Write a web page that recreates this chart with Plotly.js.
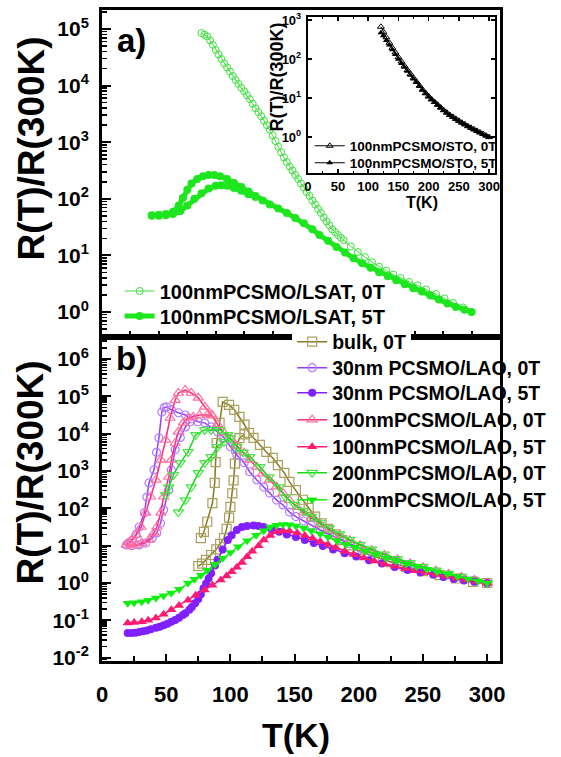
<!DOCTYPE html>
<html><head><meta charset="utf-8">
<script src="https://cdn.plot.ly/plotly-3.0.1.min.js"></script>
<style>html,body{margin:0;padding:0;background:#fff}#chart{width:561px;height:757px}</style>
</head><body><div id="chart"></div>
<script>
// ---------- Panel a: 100nm PCSMO/LSAT (values read as log10 R(T)/R(300K)) ----------
const lsat0T_T = [110,112,114,116,118,120,122,124,126,128,130,132,134,136,138,140,142,144,146,148,150,152,154,156,158,160,162,164,166,168,170,172,174,176,178,180,182,184,186,188,190,192,194,196,198,200,202,204,206,208,210,215,220,225,230,235,240,245,250,256,262,268,275,281,287,294,300];
const lsat0T_log = [4.93,4.90,4.87,4.80,4.72,4.63,4.55,4.47,4.39,4.32,4.25,4.17,4.10,4.03,3.96,3.90,3.83,3.76,3.68,3.60,3.53,3.46,3.38,3.30,3.22,3.12,3.02,2.92,2.82,2.73,2.65,2.57,2.50,2.42,2.35,2.27,2.20,2.12,2.05,1.97,1.90,1.82,1.75,1.67,1.60,1.53,1.46,1.41,1.36,1.31,1.27,1.16,1.06,0.97,0.88,0.80,0.73,0.66,0.60,0.53,0.47,0.40,0.32,0.24,0.16,0.08,0.00];
const lsat5T_T = [300,295,289,283,277,271,265,259,253,247,241,235,229,223,217,211,205,199,193,188,182,176,170,164,158,153,148,143,138,133,128,123,119,115,111,107,103,100,97,94,90,85,80,75,75,80,85,90,95,100,105,110,115,120,124,128,133,138,143,148];
const lsat5T_log = [0.00,0.04,0.09,0.15,0.22,0.29,0.36,0.42,0.49,0.56,0.63,0.70,0.78,0.86,0.95,1.05,1.15,1.26,1.36,1.46,1.57,1.66,1.75,1.83,1.90,1.97,2.05,2.13,2.21,2.28,2.35,2.40,2.42,2.42,2.40,2.35,2.27,2.16,2.02,1.88,1.77,1.73,1.72,1.71,1.70,1.70,1.71,1.73,1.78,1.88,2.00,2.10,2.18,2.23,2.24,2.23,2.19,2.14,2.08,2.03];

// ---------- Inset: 100nm PCSMO/STO ----------
const sto0T_T = [121,125,130,135,140,145,150,155,160,165,170,175,180,185,190,195,200,205,210,215,220,225,230,235,240,245,250,255,260,265,270,275,280,285,290,295,300];
const sto0T_log = [2.83,2.70,2.56,2.42,2.29,2.17,2.05,1.94,1.83,1.72,1.62,1.52,1.42,1.32,1.22,1.13,1.05,0.97,0.90,0.83,0.76,0.69,0.63,0.57,0.52,0.47,0.42,0.37,0.33,0.28,0.24,0.20,0.16,0.12,0.08,0.04,0.00];
const sto5T_T = [121,125,130,135,140,145,150,155,160,165,170,175,180,185,190,195,200,205,210,215,220,225,230,235,240,245,250,255,260,265,270,275,280,285,290,295,300];
const sto5T_log = [2.68,2.60,2.48,2.36,2.24,2.12,2.00,1.89,1.79,1.69,1.59,1.49,1.40,1.30,1.20,1.11,1.03,0.96,0.89,0.82,0.75,0.68,0.62,0.56,0.51,0.46,0.41,0.36,0.32,0.27,0.23,0.19,0.15,0.11,0.07,0.03,0.00];

// ---------- Panel b ----------
const bulk_T = [300,289,276,263,250,237,225,212,205,199,193,187,182,176,171,166,161,156.5,151,146,142,137,133,128,123,118,114.5,111,107,103,99,94,91.6,89.3,88.5,87.8,86,82,79.4,77,null,75,78,81,85,89,92,95,97,99,100,101.5,102.5,103.5,104.5,107,111];
const bulk_log = [0.00,0.03,0.12,0.21,0.32,0.43,0.56,0.70,0.79,0.88,1.01,1.15,1.30,1.45,1.60,1.78,2.01,2.23,2.49,2.71,2.95,3.16,3.35,3.51,3.70,3.89,4.02,4.24,4.45,4.64,4.77,4.85,4.29,3.75,3.24,2.68,2.14,1.64,1.37,1.20,null,0.45,0.52,0.62,0.75,0.90,1.05,1.20,1.45,1.75,2.04,2.40,2.75,3.20,3.60,3.88,3.98];

const lao30_0T_T = [68.7,65,61,57,54,52,48,45.6,42.7,39,34,29,23,19,21,23.7,26.5,29,33,35,36.6,40.5,42.5,44.3,46.6,48.5,50.4,54,59.5,65,70,74.8,80,85,90,95,100,105,110.7,115,120.6,126,130.5,136,141,146,151,157,163,170,177,185,193,201,210,220,230,240,250,260,270,280,290,300];
const lao30_0T_log = [4.32,4.18,3.90,3.57,3.03,2.49,1.96,1.60,1.34,1.20,1.07,1.02,1.00,1.02,1.08,1.15,1.30,1.50,1.88,2.30,2.68,3.03,3.50,3.89,4.58,4.70,4.72,4.64,4.56,4.50,4.40,4.32,4.29,4.18,4.05,3.89,3.65,3.43,3.22,2.98,2.76,2.57,2.41,2.22,2.09,1.90,1.78,1.66,1.55,1.42,1.30,1.17,1.05,0.93,0.81,0.69,0.58,0.48,0.39,0.30,0.22,0.14,0.07,0.00];

const lao100_0T_T = [86,82,76,71,67,63.4,59.5,57,54,52,48,45.8,42.7,40.5,36.6,31,26.7,23,19,21,23,26.7,30.5,34,38,42,45.8,49.6,53,57,59.5,64.8,69.5,75,80,85,90,95,100,105,110.7,115,120.6,125,130.5,136,141,146,152,157,163,170,177,185,193,201,210,220,230,240,250,260,270,280,290,300];
const lao100_0T_log = [4.48,4.50,4.50,4.45,4.42,4.29,4.05,3.75,3.30,2.84,2.31,1.88,1.50,1.34,1.15,1.07,1.02,1.00,1.02,1.08,1.15,1.29,1.50,1.88,2.31,2.76,3.30,3.83,4.42,4.90,5.09,5.17,5.09,4.96,4.72,4.52,4.25,4.02,3.87,3.68,3.49,3.30,3.11,2.93,2.76,2.58,2.41,2.22,2.03,1.88,1.74,1.58,1.43,1.28,1.14,1.01,0.88,0.75,0.63,0.52,0.42,0.33,0.24,0.16,0.08,0.00];

const lao200_0T_T = [49.6,52,55.7,61,67,73,80,85,92,98,105,110,115,123,130,138,143,150,157,163,170,177,185,193,201,210,220,230,240,250,260,270,280,290,300,null,59.5,65,69.5,75,80,85,90,95,100];
const lao200_0T_log = [2.36,2.57,2.90,3.22,3.51,3.97,4.10,4.10,4.10,3.97,3.65,3.50,3.38,3.11,2.84,2.57,2.30,2.10,1.93,1.78,1.62,1.47,1.31,1.16,1.03,0.90,0.77,0.65,0.54,0.44,0.34,0.25,0.17,0.08,0.00,null,1.90,2.22,2.57,2.95,3.22,3.38,3.65,3.78,3.88];

const lao30_5T_T = [20,23,26,29,32,35,38,42,45,48,51,54,57,60,63,65,68,70,72.5,75,77,79,81,83,85,88,90,94,98,101,105,109,113,118,122,126,132,138,144,151,158,165,172,180,189,198,208,218,228,238,248,258,266,274,282,290,300];
const lao30_5T_log = [-1.34,-1.34,-1.33,-1.31,-1.29,-1.27,-1.24,-1.20,-1.17,-1.13,-1.09,-1.04,-0.99,-0.93,-0.86,-0.81,-0.72,-0.64,-0.54,-0.43,-0.30,-0.15,-0.02,0.12,0.26,0.47,0.62,0.90,1.15,1.28,1.42,1.50,1.53,1.54,1.53,1.50,1.44,1.37,1.30,1.23,1.15,1.07,0.99,0.90,0.80,0.71,0.61,0.52,0.43,0.35,0.28,0.22,0.16,0.11,0.07,0.03,0.00];

const lao100_5T_T = [20,25,31,36,42,48,54,60,67,73,80,86,92.5,97,101,105,109,113,117,122,126,131,136,141,146,152,158,164,170,176,182,189,196,204,212,220,228,236,244,252,260,268,276,284,292,300];
const lao100_5T_log = [-1.07,-1.06,-1.04,-1.00,-0.94,-0.84,-0.72,-0.60,-0.46,-0.33,-0.19,-0.06,0.08,0.19,0.30,0.42,0.55,0.70,0.85,1.00,1.15,1.27,1.37,1.40,1.39,1.34,1.27,1.20,1.11,1.03,0.95,0.85,0.76,0.67,0.59,0.51,0.45,0.39,0.33,0.28,0.23,0.18,0.13,0.08,0.04,0.00];

const lao200_5T_T = [20,25,31,36,42,48,54,60,67,72,77,82,88,94,100,106,113,120,126,131,136,141,146,151,157,163,170,176,183,190,197,205,213,221,229,237,245,253,261,269,277,285,293,300];
const lao200_5T_log = [-0.54,-0.53,-0.50,-0.46,-0.40,-0.34,-0.27,-0.17,0.00,0.10,0.21,0.34,0.50,0.66,0.82,0.97,1.13,1.28,1.40,1.50,1.55,1.57,1.56,1.53,1.47,1.40,1.32,1.23,1.13,1.03,0.96,0.86,0.76,0.67,0.59,0.51,0.44,0.37,0.30,0.24,0.17,0.11,0.05,0.00];

// legend labels and tick labels
const namesA = ['100nmPCSMO/LSAT, 0T','100nmPCSMO/LSAT, 5T'];
const namesInset = ['100nmPCSMO/STO, 0T','100nmPCSMO/STO, 5T'];
const namesB = ['bulk, 0T','30nm PCSMO/LAO, 0T','30nm PCSMO/LAO, 5T','100nmPCSMO/LAO, 0T','100nmPCSMO/LAO, 5T','200nmPCSMO/LAO, 0T','200nmPCSMO/LAO, 5T'];
const yTickValsA = [1,10,100,1000,10000,100000];
const yTickTextA = ['10<sup>0</sup>','10<sup>1</sup>','10<sup>2</sup>','10<sup>3</sup>','10<sup>4</sup>','10<sup>5</sup>'];
const yTickValsB = [0.01,0.1,1,10,100,1000,10000,100000,1000000];
const yTickTextB = ['10<sup>-2</sup>','10<sup>-1</sup>','10<sup>0</sup>','10<sup>1</sup>','10<sup>2</sup>','10<sup>3</sup>','10<sup>4</sup>','10<sup>5</sup>','10<sup>6</sup>'];
const yTickValsI = [1,10,100,1000];
const yTickTextI = ['10<sup>0</sup>','10<sup>1</sup>','10<sup>2</sup>','10<sup>3</sup>'];

const fromLog = a => a.map(v => v === null ? null : Math.pow(10, v));
const FONT = 'Liberation Sans, Arial, sans-serif';
const bf = s => ({family: FONT, size: s, color: '#000', weight: 'bold'});

const traces = [
  // panel a
  {x: lsat0T_T, y: fromLog(lsat0T_log), name: namesA[0], xaxis: 'x2', yaxis: 'y2', legend: 'legend8',
   mode: 'lines+markers', line: {color: '#3ee03e', width: 1},
   marker: {symbol: 'circle-open', size: 7, color: '#3ee03e', line: {width: 1}}},
  {x: lsat5T_T, y: fromLog(lsat5T_log), name: namesA[1], xaxis: 'x2', yaxis: 'y2', legend: 'legend9',
   mode: 'lines+markers', line: {color: '#1ee61e', width: 5},
   marker: {symbol: 'circle', size: 8, color: '#1ee61e'}},
  // inset
  {x: sto5T_T, y: fromLog(sto5T_log), name: namesInset[1], xaxis: 'x3', yaxis: 'y3', legend: 'legend11',
   mode: 'lines+markers', line: {color: '#000', width: 1},
   marker: {symbol: 'triangle-up', size: 6, color: '#000'}},
  {x: sto0T_T, y: fromLog(sto0T_log), name: namesInset[0], xaxis: 'x3', yaxis: 'y3', legend: 'legend10',
   mode: 'lines+markers', line: {color: '#000', width: 1},
   marker: {symbol: 'triangle-up-open', size: 6, color: '#000', line: {width: 1}}},
  // panel b
  {x: bulk_T, y: fromLog(bulk_log), name: namesB[0], legend: 'legend', mode: 'lines+markers',
   line: {color: '#857a1e', width: 1.5}, marker: {symbol: 'square-open', size: 9, color: '#aaa060', line: {width: 1.2}}},
  {x: lao30_0T_T, y: fromLog(lao30_0T_log), name: namesB[1], legend: 'legend2', mode: 'lines+markers',
   line: {color: '#9040ff', width: 1.5}, marker: {symbol: 'circle-open', size: 8, color: '#b47cff', line: {width: 1.2}}},
  {x: lao100_0T_T, y: fromLog(lao100_0T_log), name: namesB[3], legend: 'legend4', mode: 'lines+markers',
   line: {color: '#ff2a78', width: 1.5}, marker: {symbol: 'triangle-up-open', size: 9, color: '#ff6f9c', line: {width: 1.2}}},
  {x: lao200_0T_T, y: fromLog(lao200_0T_log), name: namesB[5], legend: 'legend6', mode: 'lines+markers',
   line: {color: '#18d818', width: 1.5}, marker: {symbol: 'triangle-down-open', size: 9, color: '#44e644', line: {width: 1.2}}},
  {x: lao30_5T_T, y: fromLog(lao30_5T_log), name: namesB[2], legend: 'legend3', mode: 'lines+markers',
   line: {color: '#8020ff', width: 1.5}, marker: {symbol: 'circle', size: 8, color: '#8020ff'}},
  {x: lao100_5T_T, y: fromLog(lao100_5T_log), name: namesB[4], legend: 'legend5', mode: 'lines+markers',
   line: {color: '#ff1a72', width: 1.5}, marker: {symbol: 'triangle-up', size: 9, color: '#ff1a72'}},
  {x: lao200_5T_T, y: fromLog(lao200_5T_log), name: namesB[6], legend: 'legend7', mode: 'lines+markers',
   line: {color: '#10f010', width: 1.5}, marker: {symbol: 'triangle-down', size: 9, color: '#10f010'}}
];

const axLine = {showline: true, linecolor: '#000', linewidth: 3, mirror: true, showgrid: false, zeroline: false};
const layout = {
  width: 561, height: 757,
  margin: {l: 102, r: 53, t: 10, b: 96},
  paper_bgcolor: '#fff', plot_bgcolor: 'rgba(0,0,0,0)',
  font: bf(16),
  showlegend: true,
  xaxis: Object.assign({}, axLine, {domain: [0, 1], anchor: 'y', range: [0, 310], tick0: 0, dtick: 50,
    ticks: 'inside', ticklen: 7, tickwidth: 2, tickcolor: '#000',
    minor: {dtick: 25, ticks: 'inside', ticklen: 5, tickwidth: 2, tickcolor: '#000'},
    tickfont: bf(22), ticklabelstandoff: 12}),
  yaxis: Object.assign({}, axLine, {domain: [0, 0.4977], anchor: 'x', type: 'log', range: [-2.09, 6.59],
    tickmode: 'array', tickvals: yTickValsB, ticktext: yTickTextB,
    ticks: 'inside', ticklen: 9, tickwidth: 2, tickcolor: '#000',
    minor: {dtick: 'D1', ticks: 'inside', ticklen: 5, tickwidth: 1.5, tickcolor: '#000'},
    tickfont: bf(21), ticklabelstandoff: 6}),
  xaxis2: Object.assign({}, axLine, {domain: [0, 1], anchor: 'y2', range: [40, 320], tick0: 0, dtick: 20,
    ticks: 'inside', ticklen: 6, tickwidth: 2, tickcolor: '#000', showticklabels: false}),
  yaxis2: Object.assign({}, axLine, {domain: [0.4977, 1], anchor: 'x2', type: 'log', range: [-0.442, 5.336],
    tickmode: 'array', tickvals: yTickValsA, ticktext: yTickTextA,
    ticks: 'inside', ticklen: 9, tickwidth: 2, tickcolor: '#000',
    minor: {dtick: 'D1', ticks: 'inside', ticklen: 5, tickwidth: 1.5, tickcolor: '#000'},
    tickfont: bf(21), ticklabelstandoff: 6}),
  xaxis3: {domain: [0.517, 0.9877], anchor: 'y3', range: [0, 310], tick0: 0, dtick: 50,
    showline: true, linecolor: '#000', linewidth: 2, mirror: 'allticks', showgrid: false, zeroline: false,
    ticks: 'inside', ticklen: 4, tickwidth: 1.5, tickcolor: '#000',
    minor: {dtick: 25, ticks: 'inside', ticklen: 2, tickwidth: 1, tickcolor: '#000'},
    tickfont: bf(13)},
  yaxis3: {domain: [0.7496, 0.9892], anchor: 'x3', type: 'log', range: [-0.92, 3.08],
    tickmode: 'array', tickvals: yTickValsI, ticktext: yTickTextI,
    showline: true, linecolor: '#000', linewidth: 2, mirror: 'allticks', showgrid: false, zeroline: false,
    ticks: 'inside', ticklen: 4, tickwidth: 1.5, tickcolor: '#000', tickfont: bf(13), ticklabelstandoff: 2},
  annotations: [
    {text: 'R(T)/R(300K)', textangle: -90, xref: 'paper', yref: 'paper', x: -0.1773, y: 0.788,
     xanchor: 'center', yanchor: 'middle', showarrow: false, font: bf(37)},
    {text: 'R(T)/R(300K)', textangle: -90, xref: 'paper', yref: 'paper', x: -0.1798, y: 0.2903,
     xanchor: 'center', yanchor: 'middle', showarrow: false, font: bf(37)},
    {text: 'T(K)', xref: 'paper', yref: 'paper', x: 0.4877, y: -0.1136,
     xanchor: 'center', yanchor: 'middle', showarrow: false, font: bf(34)},
    {text: 'R(T)/R(300K)', textangle: -90, xref: 'paper', yref: 'paper', x: 0.4409, y: 0.897,
     xanchor: 'center', yanchor: 'middle', showarrow: false, font: bf(18)},
    {text: 'T(K)', xref: 'paper', yref: 'paper', x: 0.803, y: 0.7050,
     xanchor: 'center', yanchor: 'middle', showarrow: false, font: bf(16)},
    {text: 'a)', xref: 'paper', yref: 'paper', x: 0.0739, y: 0.9524,
     xanchor: 'center', yanchor: 'middle', showarrow: false, font: bf(33)},
    {text: 'b)', xref: 'paper', yref: 'paper', x: 0.0739, y: 0.4654,
     xanchor: 'center', yanchor: 'middle', showarrow: false, font: bf(33)}
  ]
};

// one single-entry legend per row so the row spacing matches the reference
function legendAt(x, y, size, bg) {
  return {visible: true, x: x, y: y, xanchor: 'left', yanchor: 'middle', bgcolor: bg || 'rgba(0,0,0,0)',
    borderwidth: 0, font: bf(size), tracegroupgap: 0};
}
const rowsB = [0.4900, 0.4501, 0.4117, 0.3702, 0.3287, 0.2888, 0.2473];
layout.legend = legendAt(0.4778, rowsB[0], 19.5, '#ffffff');
for (let i = 1; i < 7; i++) layout['legend' + (i + 1)] = legendAt(0.4778, rowsB[i], 19.5);
layout.legend8 = legendAt(0.0443, 0.5684, 20);
layout.legend9 = legendAt(0.0443, 0.5300, 20);
layout.legend10 = legendAt(0.522, 0.7911, 13.5);
layout.legend11 = legendAt(0.522, 0.7650, 13.5);

Plotly.newPlot('chart', traces, layout, {staticPlot: true, displayModeBar: false});
</script>
</body></html>
